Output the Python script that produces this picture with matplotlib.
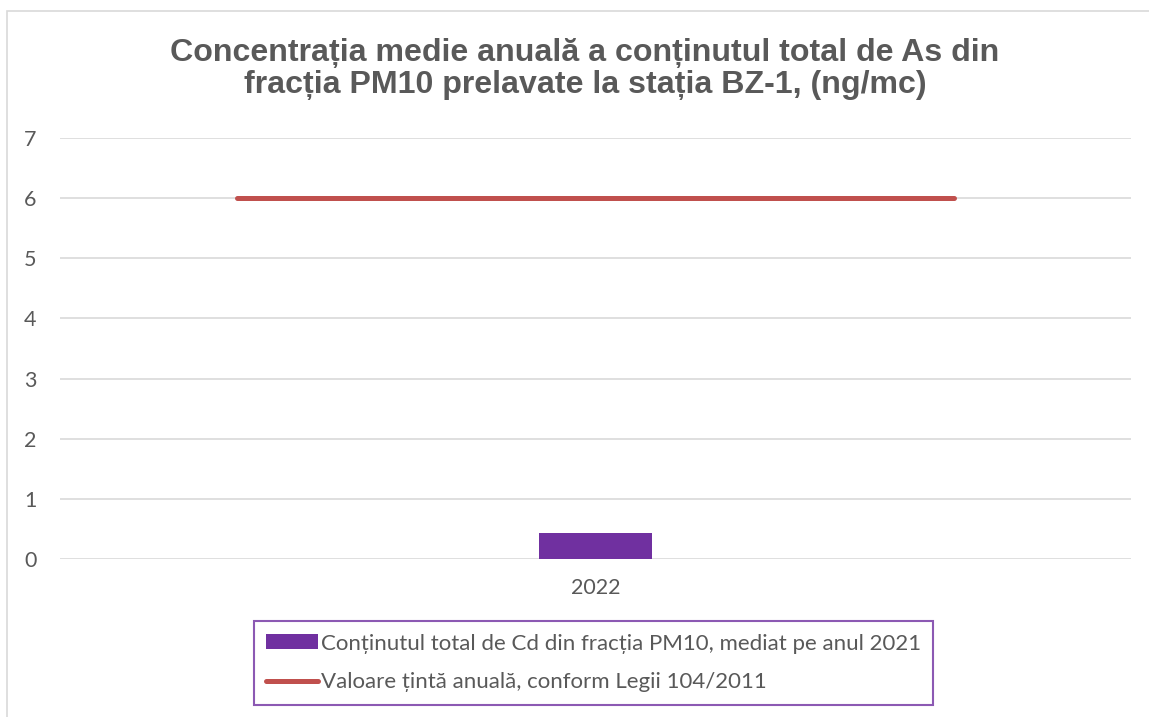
import matplotlib.pyplot as plt
from matplotlib.patches import Rectangle
from matplotlib.lines import Line2D
import matplotlib as mpl

# data
years = ["2022"]
cd_values = [0.43]
target_value = 6
target_span = [-0.335, 0.335]   # line spans the middle of the category
bar_label = "Conținutul total de Cd din fracția PM10, mediat pe anul 2021"
line_label = "Valoare țintă anuală, conform Legii 104/2011"
title = "Concentrația medie anuală a conținutul total de As din\nfracția PM10 prelavate la stația BZ-1, (ng/mc)"

grey = '#595959'
purple = '#7030A0'
red = '#C0504D'

mpl.rcParams['font.family'] = ['Lato', 'DejaVu Sans']

fig = plt.figure(figsize=(11.49, 7.17), dpi=100)
ax = fig.add_axes([60/1149, 1-559/717, (1131-60)/1149, (559-138)/717])

# outer chart border
fig.patches.append(Rectangle((7/1149, -0.05), 1.1, 1-11/717+0.05, transform=fig.transFigure,
                             fill=False, edgecolor='#D9D9D9', linewidth=1.2))

x = list(range(len(years)))
ax.bar(x, cd_values, width=0.106, color=purple, zorder=3)
ax.plot(target_span, [target_value, target_value], color=red, linewidth=3.6,
        solid_capstyle='round', zorder=4)

ax.set_xlim(-0.5, 0.5)
ax.set_ylim(0, 7)
ax.set_yticks(range(0, 8))
ax.set_xticks(x)
ax.set_xticklabels(years)
ax.grid(axis='y', color='#D9D9D9', linewidth=1.2)
ax.set_axisbelow(True)
for s in ax.spines.values():
    s.set_visible(False)
ax.tick_params(axis='y', length=0, pad=17, labelsize=15.5, labelcolor=grey)
ax.tick_params(axis='x', length=0, pad=14, labelsize=15.5, labelcolor=grey)

fig.text(0.509, 1-69/717, title, ha='center', va='center', fontsize=23.1,
         fontweight='bold', color=grey, family=['Liberation Sans', 'DejaVu Sans'],
         linespacing=1.12)

handles = [Rectangle((0, 0), 1, 1, facecolor=purple, edgecolor='none'),
           Line2D([0], [0], color=red, linewidth=3.6, solid_capstyle='round')]
leg = fig.legend(handles, [bar_label, line_label], loc='center',
                 bbox_to_anchor=(0.5165, 1-663/717), fontsize=16, labelcolor=grey,
                 frameon=True, fancybox=False, edgecolor=purple, handlelength=2.35,
                 handleheight=0.65, handletextpad=0.1, labelspacing=0.85,
                 borderpad=0.55, borderaxespad=0)
leg.get_frame().set_linewidth(1.5)

fig.savefig('out.png', dpi=100)
